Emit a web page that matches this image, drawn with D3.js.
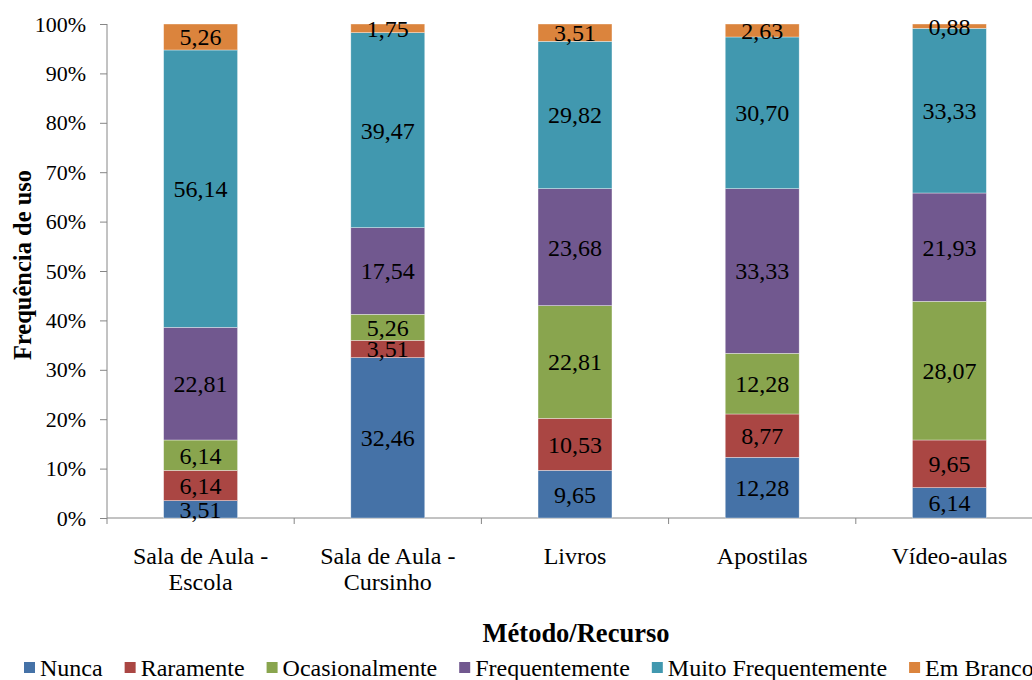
<html>
<head>
<meta charset="utf-8" />
<title>Frequência de uso</title>
<script src="https://cdn.jsdelivr.net/npm/d3@7"></script>
<style>
	body { margin: 0; background: #fff; }
	text { font-family: "Liberation Serif", "Times New Roman", serif; fill: #000; }
	.axis path, .axis line { stroke: #868686; }
</style>
</head>
<body>
<script>

var categories = [["Sala de Aula -", "Escola"], ["Sala de Aula -", "Cursinho"], ["Livros"], ["Apostilas"], ["Vídeo-aulas"]];
var seriesNames = ["Nunca", "Raramente", "Ocasionalmente", "Frequentemente", "Muito Frequentemente", "Em Branco"];
var colors = ["#4572A7", "#AA4643", "#89A54E", "#71588F", "#4198AF", "#DB843D"];

var nunca = [3.51, 32.46, 9.65, 12.28, 6.14];
var raramente = [6.14, 3.51, 10.53, 8.77, 9.65];
var ocasionalmente = [6.14, 5.26, 22.81, 12.28, 28.07];
var frequentemente = [22.81, 17.54, 23.68, 33.33, 21.93];
var muitoFreq = [56.14, 39.47, 29.82, 30.70, 33.33];
var emBranco = [5.26, 1.75, 3.51, 2.63, 0.88];
var yTicks = [0, 10, 20, 30, 40, 50, 60, 70, 80, 90, 100];

var allSeries = [nunca, raramente, ocasionalmente, frequentemente, muitoFreq, emBranco];

var W = 1032, H = 680;
var plotLeft = 107, plotTop = 24, plotBottom = 518, plotRight = 1043;

var svg = d3.select("body").append("svg").attr("width", W).attr("height", H);

var rows = categories.map(function(c, i) {
	var r = {key: i};
	seriesNames.forEach(function(s, j) { r[s] = allSeries[j][i]; });
	return r;
});
var stack = d3.stack().keys(seriesNames).offset(d3.stackOffsetExpand);
var stacked = stack(rows);

var x = d3.scaleBand().domain(d3.range(categories.length)).range([plotLeft, plotRight]);
var barW = x.step() * 0.395;
var y = d3.scaleLinear().domain([0, 1]).range([plotBottom, plotTop]);

// y axis
var yAxis = svg.append("g").attr("class", "axis").attr("transform", "translate(" + plotLeft + ",0)")
	.call(d3.axisLeft(y).tickValues(yTicks.map(function(t) { return t / 100; }))
		.tickFormat(function(d) { return Math.round(d * 100) + "%"; }).tickSize(7).tickPadding(14));
yAxis.selectAll("text").attr("font-size", "22px").attr("font-family", "Liberation Serif");
yAxis.select(".domain").attr("d", "M0," + plotTop + "V" + plotBottom);

// x axis line + ticks at band edges
var xg = svg.append("g").attr("class", "axis");
xg.append("line").attr("x1", plotLeft).attr("x2", plotRight).attr("y1", plotBottom).attr("y2", plotBottom).attr("stroke", "#868686");
d3.range(categories.length + 1).forEach(function(i) {
	var xx = plotLeft + i * x.step();
	xg.append("line").attr("x1", xx).attr("x2", xx).attr("y1", plotBottom).attr("y2", plotBottom + 6).attr("stroke", "#868686");
});

// bars
var layers = svg.selectAll(".layer").data(stacked).enter().append("g")
	.attr("fill", function(d, i) { return colors[i]; });
layers.selectAll("rect").data(function(d) { return d; }).enter().append("rect")
	.attr("x", function(d, i) { return x(i) + x.step() / 2 - barW / 2; })
	.attr("width", barW)
	.attr("y", function(d) { return y(d[1]); })
	.attr("height", function(d) { return y(d[0]) - y(d[1]); })
	.attr("stroke", "#fff").attr("stroke-width", 0.6).attr("stroke-opacity", 0.6);

// value labels
stacked.forEach(function(layer, j) {
	svg.append("g").selectAll("text").data(layer).enter().append("text")
		.attr("x", function(d, i) { return x(i) + x.step() / 2; })
		.attr("y", function(d) { return y((d[0] + d[1]) / 2); })
		.attr("dy", "0.35em")
		.attr("text-anchor", "middle")
		.attr("font-size", "24px")
		.text(function(d, i) { return allSeries[j][i].toFixed(2).replace(".", ","); });
});

// category labels
categories.forEach(function(c, i) {
	var t = svg.append("text").attr("text-anchor", "middle").attr("font-size", "24px")
		.attr("x", x(i) + x.step() / 2).attr("y", 564);
	c.forEach(function(line, k) {
		t.append("tspan").attr("x", x(i) + x.step() / 2).attr("dy", k == 0 ? 0 : 26).text(line);
	});
});

// titles
svg.append("text").attr("text-anchor", "middle").attr("font-size", "24.5px").attr("font-weight", "bold")
	.attr("transform", "translate(31,265) rotate(-90)")
	.text("Frequência de uso");
svg.append("text").attr("text-anchor", "middle").attr("font-size", "26.5px").attr("font-weight", "bold")
	.attr("x", 576).attr("y", 642).text("Método/Recurso");

// legend
var lg = svg.append("g").attr("transform", "translate(24,668)");
var lx = 0;
seriesNames.forEach(function(s, i) {
	lg.append("rect").attr("x", lx).attr("y", -6).attr("width", 11).attr("height", 11).attr("fill", colors[i]);
	var t = lg.append("text").attr("x", lx + 16).attr("y", 0).attr("dy", "0.35em").attr("font-size", "24px").text(s);
	lx += 16 + t.node().getComputedTextLength() + 22;
});

</script>
</body>
</html>
